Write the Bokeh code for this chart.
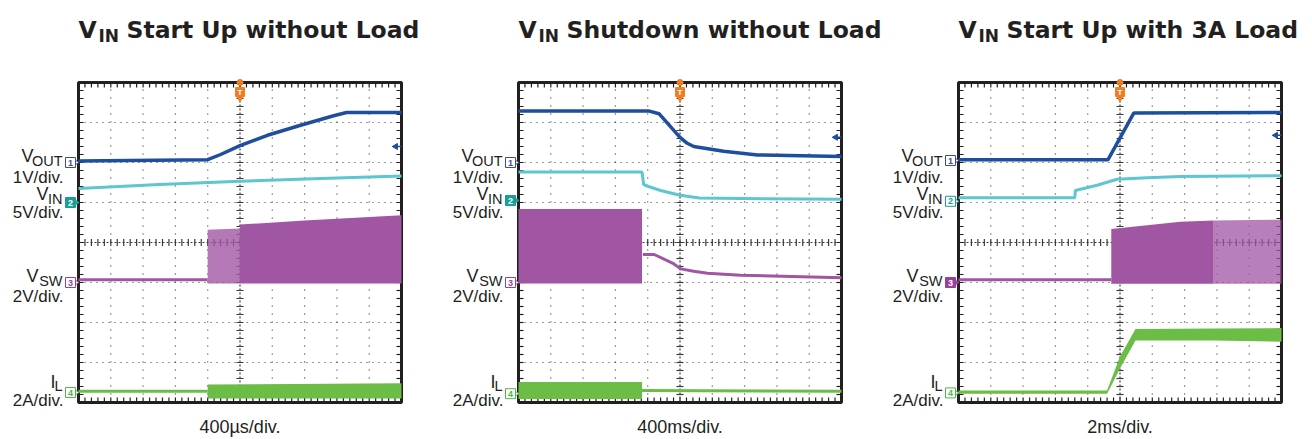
import numpy as np
from bokeh.plotting import figure
from bokeh.layouts import row
from bokeh.models import Range1d
from bokeh.core.properties import value
from bokeh.embed import file_html
from bokeh.resources import INLINE

# ---------------- colours ----------------
C_VOUT = "#1f4e9e"
C_VIN = "#5ec6cf"
C_VSW = "#a056a3"
C_IL = "#6bbd45"
C_TAG = ["#3a4ca0", "#17a097", "#9a3f9d", "#4cb848"]
C_TRIG = "#f47c20"
C_FRAME = "#231f20"
C_GRID = "#3a3a3a"

# ---------------- channel setup ----------------
ch_scale = [1.0, 5.0, 2.0, 2.0]            # V/div, V/div, V/div, A/div
ch_main = ["V", "V", "V", "I"]
ch_sub = ["OUT", "IN", "SW", "L"]
ch_scale_text = ["1V/div.", "5V/div.", "2V/div.", "2A/div."]

titles = ["Start Up without Load", "Shutdown without Load", "Start Up with 3A Load"]
timebase_text = ["400µs/div.", "400ms/div.", "2ms/div."]
time_per_div = [0.4, 0.4, 2.0]            # ms, s, ms
ground_div = [[6.0, 5.0, 3.0, 0.25], [6.0, 5.05, 3.0, 0.22], [6.05, 5.03, 3.0, 0.24]]
tag_filled = [[False, True, False, False], [False, True, False, False], [False, False, True, False]]
trig_time = [0.0, 0.0, 0.0]
trig_level = [0.40, 0.63, 0.63]           # V on VOUT channel

# ---------------- panel 1 : VIN start up without load (ms) ----------------
p1_vout_t = [-2.0, -0.40, -0.24, 0.0, 0.34, 0.75, 1.16, 1.32, 2.0]
p1_vout = [0.04, 0.07, 0.20, 0.42, 0.68, 0.93, 1.17, 1.25, 1.25]
p1_vin_t = [-2.0, -1.0, 0.0, 1.0, 2.0]
p1_vin = [1.75, 2.25, 2.65, 3.00, 3.30]
p1_vsw_idle_t = [-2.0, -0.40]
p1_vsw_idle = [0.14, 0.14]
p1_vsw_sparse_t = [-0.40, 0.0]
p1_vsw_sparse_hi = [2.64, 2.70]
p1_vsw_sparse_lo = [-0.05, -0.05]
p1_vsw_t = [0.0, 0.8, 2.0]
p1_vsw_hi = [2.90, 3.10, 3.36]
p1_vsw_lo = [-0.05, -0.05, -0.05]
p1_il_idle_t = [-2.0, -0.40]
p1_il_idle = [0.06, 0.06]
p1_il_t = [-0.40, 2.0]
p1_il_hi = [0.40, 0.46]
p1_il_lo = [-0.30, -0.30]

# ---------------- panel 2 : VIN shutdown without load (s) ----------------
p2_vout_t = [-2.0, -0.39, -0.26, 0.0, 0.09, 0.17, 0.54, 0.96, 2.0]
p2_vout = [1.29, 1.29, 1.22, 0.63, 0.48, 0.40, 0.28, 0.19, 0.15]
p2_vin_t = [-2.0, -0.47, -0.45, -0.39, -0.24, 0.0, 0.24, 2.0]
p2_vin = [3.55, 3.55, 2.00, 1.75, 1.25, 0.65, 0.30, 0.15]
p2_vsw_band_t = [-2.0, -0.47]
p2_vsw_band_hi = [3.68, 3.68]
p2_vsw_band_lo = [-0.05, -0.05]
p2_vsw_t = [-0.46, -0.32, -0.08, 0.01, 0.17, 0.34, 0.75, 2.0]
p2_vsw = [1.40, 1.40, 0.94, 0.68, 0.56, 0.46, 0.36, 0.24]
p2_il_band_t = [-2.0, -0.47]
p2_il_band_hi = [0.58, 0.58]
p2_il_band_lo = [-0.26, -0.26]
p2_il_t = [-0.47, 2.0]
p2_il = [0.16, 0.12]

# ---------------- panel 3 : VIN start up with 3A load (ms) ----------------
p3_vout_t = [-10.0, -0.74, 0.86, 10.0]
p3_vout = [0.02, 0.02, 1.19, 1.20]
p3_vin_t = [-10.0, -2.80, -2.76, -1.42, -0.18, 1.68, 3.74, 10.0]
p3_vin = [0.45, 0.45, 1.35, 2.00, 2.75, 2.95, 3.10, 3.20]
p3_vsw_idle_t = [-10.0, -0.54]
p3_vsw_idle = [0.14, 0.14]
p3_vsw_t = [-0.54, 1.68, 3.74, 5.8]
p3_vsw_hi = [2.68, 2.86, 3.04, 3.10]
p3_vsw_lo = [-0.06, -0.06, -0.06, -0.06]
p3_vsw_sparse_t = [5.8, 10.0]
p3_vsw_sparse_hi = [3.10, 3.14]
p3_vsw_sparse_lo = [-0.06, -0.06]
p3_il_t = [-10.0, -0.80, 0.0, 0.96, 5.8, 10.0]
p3_il_hi = [0.12, 0.12, 1.82, 3.20, 3.22, 3.24]
p3_il_lo = [-0.04, -0.04, 1.22, 2.62, 2.62, 2.56]

# ---------------- layout constants (page pixels) ----------------
FIG_H = 438
FIG_W = [440, 448, 422]
FRAME_LEFT = [78, 78, 70]   # px from each figure's left edge
FRAME_BOTTOM = 402          # px from top
DIV_W = 32.3                # px per horizontal division
DIV_H = 40.0                # px per vertical division
N_XDIV, N_YDIV = 10, 8

# label rows: right edge of main letter (px rel. frame), baselines (page px)
row_main_right = [-45, -30, -40, -23]
row_main_base = [155, 193.3, 275, 381]
row_sub_base = [160.7, 198.3, 280, 385]
row_scale_base = [177.3, 211.7, 295.7, 400]
SUB_RIGHT = -16
SCALE_RIGHT = -15
TITLE_BASE = 29.5
TITLE_SUB_BASE = 35.5
TITLE_SUB_X = 20
TITLE_REST_X = 48
TIMEBASE_BASE = 426
TAG_X = -8

LAB_FONT = "Liberation Sans"
TITLE_FONT = "DejaVu Sans"


def dx(px):
    return px / DIV_W


def dy(py):
    return (FRAME_BOTTOM - py) / DIV_H


def txt(p, x, y, s, size, align="left", bold=False, color=C_FRAME, font=LAB_FONT, **kw):
    p.text(x=[x], y=[y], text=[s], text_font=value(font), text_font_size=value(size),
           text_font_style="bold" if bold else "normal", text_color=color, text_align=align,
           text_baseline="alphabetic", **kw)


def make_panel(i):
    W = FIG_W[i]
    L = FRAME_LEFT[i]
    x0, x1 = dx(-L), dx(W - L)
    y0, y1 = dy(FIG_H), dy(0)
    p = figure(width=W, height=FIG_H, x_range=Range1d(x0, x1), y_range=Range1d(y0, y1),
               x_axis_type=None, y_axis_type=None, toolbar_location=None, output_backend="svg",
               title=None, min_border=0, outline_line_color=None,
               background_fill_color="white", border_fill_color="white")
    tpd = time_per_div[i]
    p.extra_x_ranges = {"t": Range1d((x0 - 5) * tpd, (x1 - 5) * tpd)}
    rngs = {}
    for c in range(4):
        g = ground_div[i][c]
        s = ch_scale[c]
        rngs["ch%d" % c] = Range1d((y0 - g) * s, (y1 - g) * s)
    p.extra_y_ranges = rngs

    # graticule
    gx = [x for x in range(1, N_XDIV) if x != 5]
    gy = [y for y in range(1, N_YDIV) if y != 4]
    p.segment(x0=gx, y0=[0] * len(gx), x1=gx, y1=[N_YDIV] * len(gx), line_color=C_GRID,
              line_width=1.2, line_dash="1 7")
    p.segment(x0=[0] * len(gy), y0=gy, x1=[N_XDIV] * len(gy), y1=gy, line_color=C_GRID,
              line_width=1.2, line_dash="1 5")
    p.segment(x0=[5, 0], y0=[0, 4], x1=[5, N_XDIV], y1=[N_YDIV, 4], line_color=C_GRID,
              line_width=1.2, line_dash="2 2")
    mx = np.arange(0, N_XDIV + 0.001, 0.2)
    my = np.arange(0, N_YDIV + 0.001, 0.2)
    p.scatter(x=mx, y=[4] * len(mx), marker="dash", angle=np.pi / 2, size=7, line_color=C_GRID, line_width=1.2)
    p.scatter(x=[5] * len(my), y=my, marker="dash", size=7, line_color=C_GRID, line_width=1.2)
    tl_x, tl_y = dx(5), 5 / DIV_H
    nx, ny = len(mx), len(my)
    p.segment(x0=mx, y0=[0] * nx, x1=mx, y1=[tl_y] * nx, line_color=C_FRAME, line_width=1.2)
    p.segment(x0=mx, y0=[N_YDIV] * nx, x1=mx, y1=[N_YDIV - tl_y] * nx, line_color=C_FRAME, line_width=1.2)
    p.segment(x0=[0] * ny, y0=my, x1=[tl_x] * ny, y1=my, line_color=C_FRAME, line_width=1.2)
    p.segment(x0=[N_XDIV] * ny, y0=my, x1=[N_XDIV - tl_x] * ny, y1=my, line_color=C_FRAME, line_width=1.2)
    # frame
    p.quad(left=[0], right=[N_XDIV], bottom=[0], top=[N_YDIV], fill_color=None,
           line_color=C_FRAME, line_width=3)

    # title
    txt(p, 0, dy(TITLE_BASE), "V", "23.5px", bold=True, font=TITLE_FONT)
    txt(p, dx(TITLE_SUB_X), dy(TITLE_SUB_BASE), "IN", "17px", bold=True, font=TITLE_FONT)
    txt(p, dx(TITLE_REST_X), dy(TITLE_BASE), titles[i], "23.5px", bold=True, font=TITLE_FONT)
    # timebase
    txt(p, N_XDIV / 2, dy(TIMEBASE_BASE), timebase_text[i], "18px", align="center")
    # channel labels and tags
    for c in range(4):
        txt(p, dx(row_main_right[c]), dy(row_main_base[c]), ch_main[c], "18px", align="right")
        txt(p, dx(SUB_RIGHT), dy(row_sub_base[c]), ch_sub[c], "14.5px", align="right")
        txt(p, dx(SCALE_RIGHT), dy(row_scale_base[c]), ch_scale_text[c], "17px", align="right")
        filled = tag_filled[i][c]
        yr = "ch%d" % c
        p.scatter(x=[dx(TAG_X + 4)], y=[0], y_range_name=yr, marker="triangle", angle=-np.pi / 2, size=8,
                  fill_color=C_TAG[c] if filled else "white", line_color=C_TAG[c], line_width=1)
        p.scatter(x=[dx(TAG_X)], y=[0], y_range_name=yr, marker="square", size=10,
                  fill_color=C_TAG[c] if filled else "white", line_color=C_TAG[c], line_width=1)
        p.text(x=[dx(TAG_X)], y=[0], y_range_name=yr, text=[str(c + 1)], text_font=value(LAB_FONT),
               text_font_size=value("9px"), text_font_style="bold",
               text_color="white" if filled else C_TAG[c], text_align="center", text_baseline="middle")
    return p


def add_trigger(p, i):
    p.scatter(x=[trig_time[i]], y=[N_YDIV], x_range_name="t", marker="circle", size=6, color=C_TRIG)
    p.scatter(x=[trig_time[i]], y=[7.76], x_range_name="t", marker="square", size=9, color=C_TRIG)
    p.scatter(x=[trig_time[i]], y=[7.62], x_range_name="t", marker="inverted_triangle", size=7, color=C_TRIG)
    p.text(x=[trig_time[i]], y=[7.74], x_range_name="t", text=["T"], text_font=value(LAB_FONT),
           text_font_style="bold", text_font_size=value("8px"), text_color="white", text_align="center",
           text_baseline="middle")
    p.scatter(x=[9.82], y=[trig_level[i]], y_range_name="ch0", marker="triangle", angle=np.pi / 2,
              size=6, color=C_VOUT)
    p.scatter(x=[9.92], y=[trig_level[i]], y_range_name="ch0", marker="dash", size=5, line_color=C_VOUT,
              line_width=1.5)


panels = [make_panel(i) for i in range(3)]

# panel 1
p = panels[0]
p.line(p1_il_idle_t, p1_il_idle, x_range_name="t", y_range_name="ch3", line_color=C_IL, line_width=3)
p.varea(x=p1_il_t, y1=p1_il_lo, y2=p1_il_hi, x_range_name="t", y_range_name="ch3", fill_color=C_IL)
p.line(p1_vsw_idle_t, p1_vsw_idle, x_range_name="t", y_range_name="ch2", line_color=C_VSW, line_width=3)
p.varea(x=p1_vsw_sparse_t, y1=p1_vsw_sparse_lo, y2=p1_vsw_sparse_hi, x_range_name="t", y_range_name="ch2",
        fill_color=C_VSW, fill_alpha=0.8)
p.varea(x=p1_vsw_t, y1=p1_vsw_lo, y2=p1_vsw_hi, x_range_name="t", y_range_name="ch2", fill_color=C_VSW)
p.line(p1_vin_t, p1_vin, x_range_name="t", y_range_name="ch1", line_color=C_VIN, line_width=3)
p.line(p1_vout_t, p1_vout, x_range_name="t", y_range_name="ch0", line_color=C_VOUT, line_width=3.5)
add_trigger(p, 0)

# panel 2
p = panels[1]
p.varea(x=p2_il_band_t, y1=p2_il_band_lo, y2=p2_il_band_hi, x_range_name="t", y_range_name="ch3",
        fill_color=C_IL)
p.line(p2_il_t, p2_il, x_range_name="t", y_range_name="ch3", line_color=C_IL, line_width=3)
p.varea(x=p2_vsw_band_t, y1=p2_vsw_band_lo, y2=p2_vsw_band_hi, x_range_name="t", y_range_name="ch2",
        fill_color=C_VSW)
p.line(p2_vsw_t, p2_vsw, x_range_name="t", y_range_name="ch2", line_color=C_VSW, line_width=3)
p.line(p2_vin_t, p2_vin, x_range_name="t", y_range_name="ch1", line_color=C_VIN, line_width=3)
p.line(p2_vout_t, p2_vout, x_range_name="t", y_range_name="ch0", line_color=C_VOUT, line_width=3.5)
add_trigger(p, 1)

# panel 3
p = panels[2]
p.varea(x=p3_il_t, y1=p3_il_lo, y2=p3_il_hi, x_range_name="t", y_range_name="ch3", fill_color=C_IL)
p.line(p3_vsw_idle_t, p3_vsw_idle, x_range_name="t", y_range_name="ch2", line_color=C_VSW, line_width=3)
p.varea(x=p3_vsw_t, y1=p3_vsw_lo, y2=p3_vsw_hi, x_range_name="t", y_range_name="ch2", fill_color=C_VSW)
p.varea(x=p3_vsw_sparse_t, y1=p3_vsw_sparse_lo, y2=p3_vsw_sparse_hi, x_range_name="t", y_range_name="ch2",
        fill_color=C_VSW, fill_alpha=0.75)
p.line(p3_vin_t, p3_vin, x_range_name="t", y_range_name="ch1", line_color=C_VIN, line_width=3)
p.line(p3_vout_t, p3_vout, x_range_name="t", y_range_name="ch0", line_color=C_VOUT, line_width=3.5)
add_trigger(p, 2)

layout = row(*panels, spacing=0)
open("out.html", "w").write(file_html(layout, INLINE))
